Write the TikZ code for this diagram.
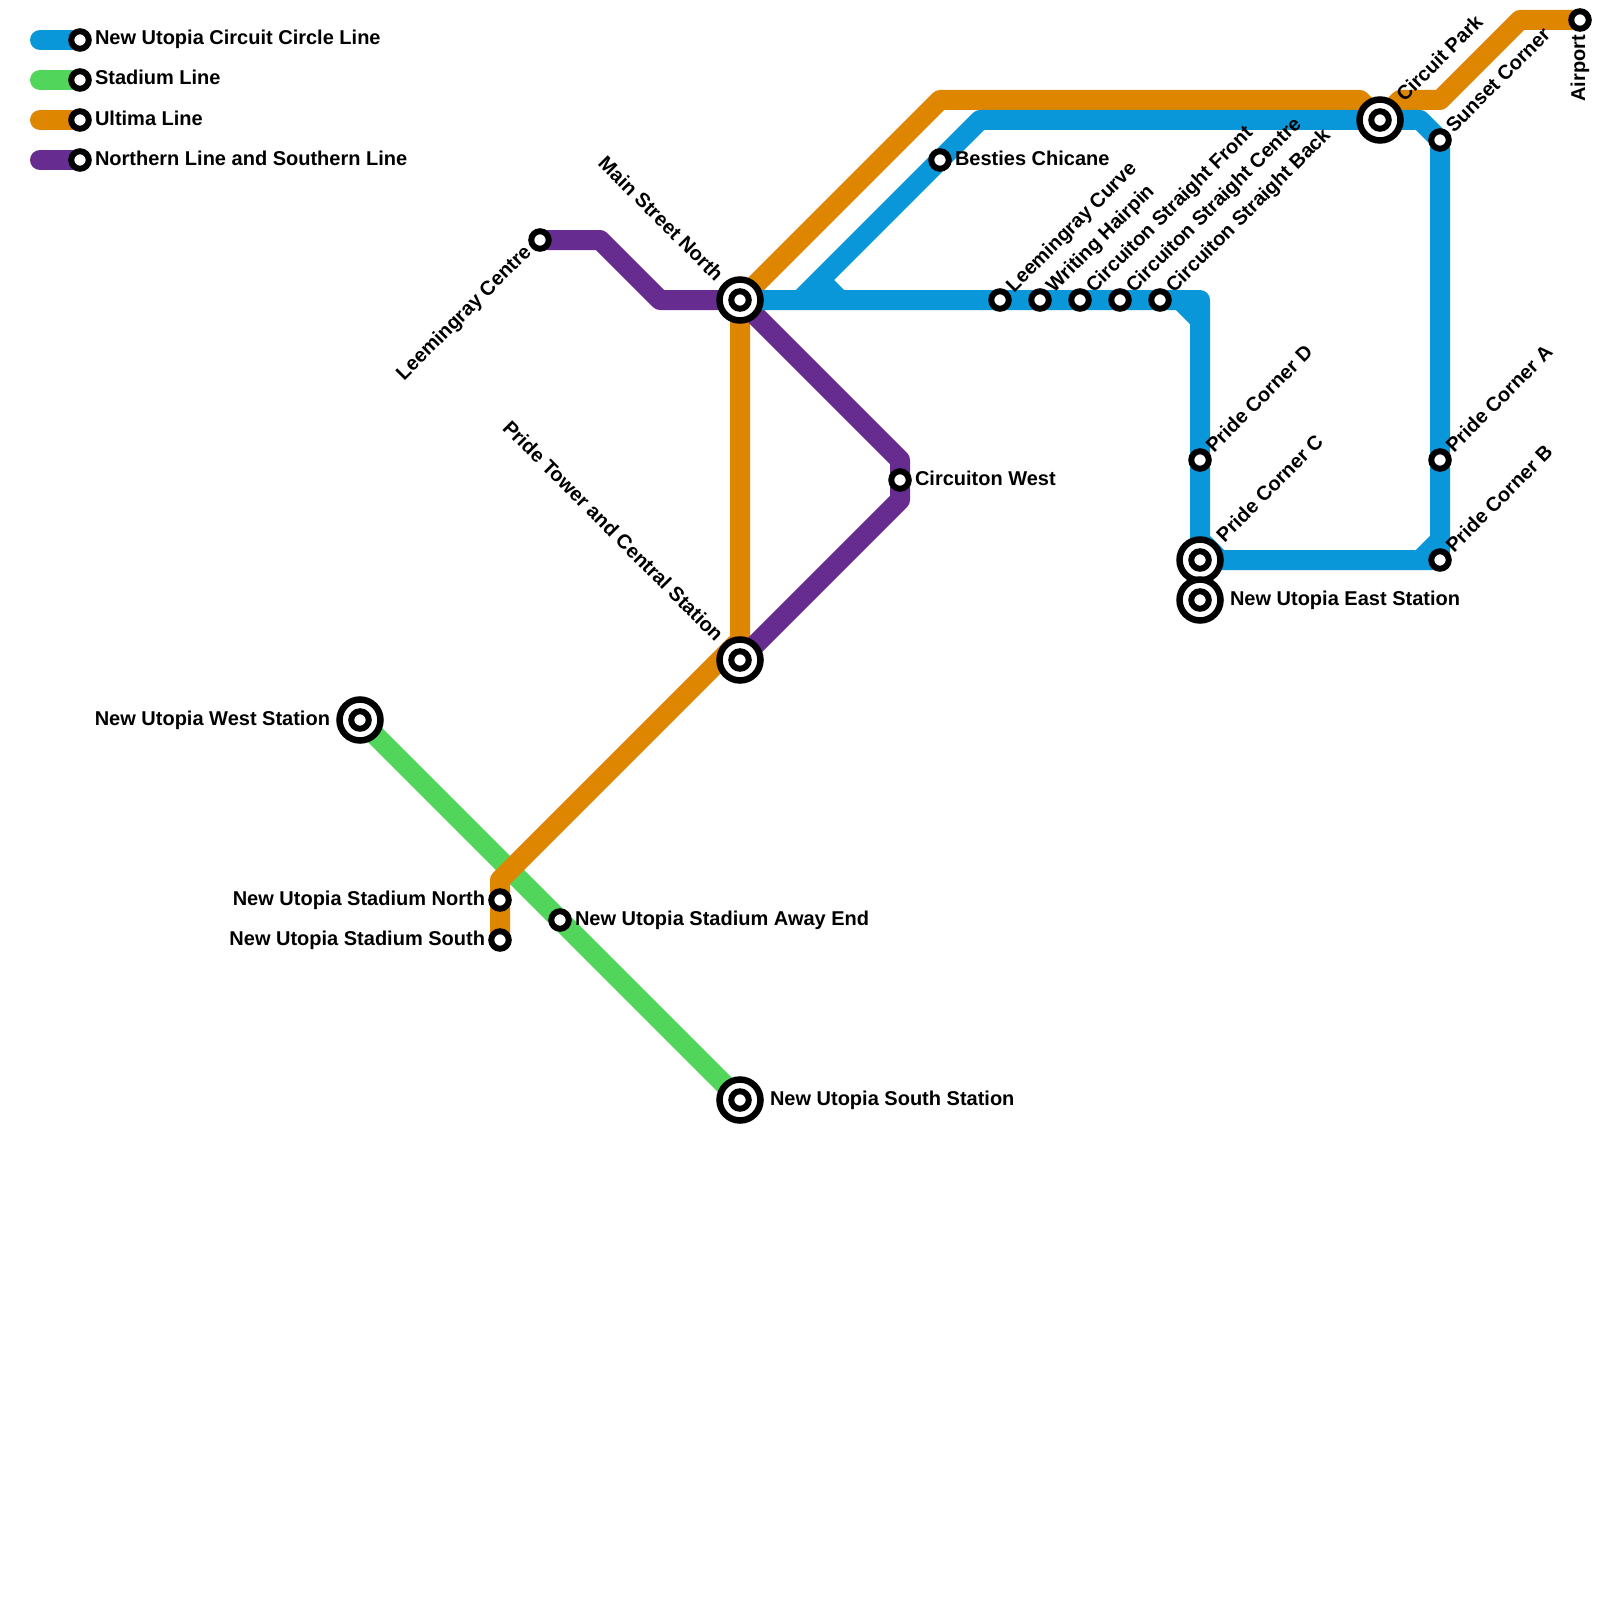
\documentclass[tikz,border=0pt]{standalone}
\usepackage{fontspec}
\setmainfont{Liberation Sans}
\usetikzlibrary{calc}
\pgfdeclarelayer{lines}
\pgfsetlayers{lines,main}
\definecolor{cblue}{HTML}{0A97D9}
\definecolor{cgreen}{HTML}{51D55A}
\definecolor{corange}{HTML}{DF8600}
\definecolor{cpurple}{HTML}{662C90}
\tikzset{
  x=1pt,y=-1pt,
  metro/.style={line width=20pt,line join=round},
  key/.style={metro,line cap=round},
  stn/.style={circle,draw=black,fill=white,line width=6pt,inner sep=0pt,outer sep=0pt,minimum size=17.5pt},
  hub/.style={circle,draw=black,fill=white,line width=6.5pt,inner sep=0pt,outer sep=0pt,minimum size=41pt,label={[stn]center:{}}},
  lbl/.style={font=\fontsize{20}{24}\selectfont\bfseries,inner sep=0pt,outer sep=0pt,text=black},
  lr/.style={lbl,anchor=base west},
  ll/.style={lbl,anchor=base east},
  up/.style={lbl,rotate=45,anchor=base west},
  upl/.style={lbl,rotate=45,anchor=base east},
  dnl/.style={lbl,rotate=-45,anchor=base east},
  vert/.style={lbl,rotate=90,anchor=base east},
}
\begin{document}
\begin{tikzpicture}
\useasboundingbox (0,0) rectangle (1600,1600);
% legend
\coordinate (k1) at (40,40);
\coordinate (k2) at (40,80);
\coordinate (k3) at (40,120);
\coordinate (k4) at (40,160);
\node[stn] (s1) at (80,40) {};
\node[stn] (s2) at (80,80) {};
\node[stn] (s3) at (80,120) {};
\node[stn] (s4) at (80,160) {};
\node[lr] (t1) at (95,45) {New Utopia Circuit Circle Line};
\node[lr] (t2) at (95,85) {Stadium Line};
\node[lr] (t3) at (95,125) {Ultima Line};
\node[lr] (t4) at (95,165) {Northern Line and Southern Line};
% stations
\node[hub] (main) at (740,300) {};
\node[hub] (tower) at (740,660) {};
\node[hub] (west) at (360,720) {};
\node[hub] (south) at (740,1100) {};
\node[hub] (park) at (1380,120) {};
\node[hub] (cornerC) at (1200,560) {};
\node[hub] (east) at (1200,600) {};
\node[stn] (stadN) at (500,900) {};
\node[stn] (stadS) at (500,940) {};
\node[stn] (away) at (560,920) {};
\node[stn] (lcentre) at (540,240) {};
\node[stn] (besties) at (940,160) {};
\node[stn] (cwest) at (900,480) {};
\node[stn] (curve) at (1000,300) {};
\node[stn] (hairpin) at (1040,300) {};
\node[stn] (front) at (1080,300) {};
\node[stn] (centre) at (1120,300) {};
\node[stn] (back) at (1160,300) {};
\node[stn] (cornerD) at (1200,460) {};
\node[stn] (cornerA) at (1440,460) {};
\node[stn] (cornerB) at (1440,560) {};
\node[stn] (sunset) at (1440,140) {};
\node[stn] (airport) at (1580,20) {};
% labels
\node[dnl] (lmain) at ($(main)+(-25,-17.5)$) {Main Street North};
\node[dnl] (ltower) at ($(tower)+(-25,-17.5)$) {Pride Tower and Central Station};
\node[ll] (lwest) at ($(west)+(-30,5)$) {New Utopia West Station};
\node[lr] (lsouth) at ($(south)+(30,5)$) {New Utopia South Station};
\node[lr] (least) at ($(east)+(30,5)$) {New Utopia East Station};
\node[up] (lpark) at ($(park)+(24.5,-17)$) {Circuit Park};
\node[up] (lC) at ($(cornerC)+(24.5,-17)$) {Pride Corner C};
\node[ll] (lN) at ($(stadN)+(-15,5)$) {New Utopia Stadium North};
\node[ll] (lS) at ($(stadS)+(-15,5)$) {New Utopia Stadium South};
\node[lr] (lA) at ($(away)+(15,5)$) {New Utopia Stadium Away End};
\node[upl] (llc) at ($(lcentre)+(-7.8,13.2)$) {Leemingray Centre};
\node[lr] (lb) at ($(besties)+(15,5)$) {Besties Chicane};
\node[lr] (lw) at ($(cwest)+(15,5)$) {Circuiton West};
\node[up] (l1) at ($(curve)+(14,-6.5)$) {Leemingray Curve};
\node[up] (l2) at ($(hairpin)+(14,-6.5)$) {Writing Hairpin};
\node[up] (l3) at ($(front)+(14,-6.5)$) {Circuiton Straight Front};
\node[up] (l4) at ($(centre)+(14,-6.5)$) {Circuiton Straight Centre};
\node[up] (l5) at ($(back)+(14,-6.5)$) {Circuiton Straight Back};
\node[up] (l6) at ($(cornerD)+(14,-6.5)$) {Pride Corner D};
\node[up] (l7) at ($(cornerA)+(14,-6.5)$) {Pride Corner A};
\node[up] (l8) at ($(cornerB)+(14,-6.5)$) {Pride Corner B};
\node[up] (l9) at ($(sunset)+(14,-6.5)$) {Sunset Corner};
\node[vert] (l10) at ($(airport)+(5,15)$) {Airport};
% bends
\coordinate (o1) at (500,880);
\coordinate (o2) at (740,640);
\coordinate (o3) at (940,100);
\coordinate (o4) at (1360,100);
\coordinate (o5) at (1400,100);
\coordinate (o6) at (1440,100);
\coordinate (o7) at (1520,20);
\coordinate (p1) at (600,240);
\coordinate (p2) at (660,300);
\coordinate (p3) at (900,460);
\coordinate (p4) at (900,500);
\coordinate (b1) at (800,300);
\coordinate (b2) at (980,120);
\coordinate (b3) at (1420,120);
\coordinate (b4) at (1200,300);
\coordinate (b5) at (820,280);
\coordinate (b6) at (840,300);
\coordinate (b7) at (1180,300);
\coordinate (b8) at (1200,320);
\coordinate (b9) at (1200,540);
\coordinate (b10) at (1220,560);
\coordinate (b11) at (1420,560);
\coordinate (b12) at (1440,540);
\begin{pgfonlayer}{lines}
\fill[white] (0,0) rectangle (1600,1600);
\draw[key,cblue] (k1) -- (s1.center);
\draw[key,cgreen] (k2) -- (s2.center);
\draw[key,corange] (k3) -- (s3.center);
\draw[key,cpurple] (k4) -- (s4.center);
\draw[metro,cgreen] (west.center) -- (away.center) -- (south.center);
\draw[metro,corange] (stadS.center) -- (stadN.center) -- (o1) -- (o2) -- (main.center) -- (o3) -- (o4) -- (park.center) -- (o5) -- (o6) -- (o7) -- (airport.center);
\draw[metro,cpurple] (lcentre.center) -- (p1) -- (p2) -- (main.center) -- (p3) -- (cwest.center) -- (p4) -- (tower.center);
\draw[metro,cblue] (main.center) -- (curve.center) -- (hairpin.center) -- (front.center) -- (centre.center) -- (back.center) -- (b4) -- (cornerD.center) -- (cornerC.center) -- (cornerB.center) -- (cornerA.center) -- (sunset.center) -- (b3) -- (park.center) -- (b2) -- (besties.center) -- (b1);
\draw[metro,cblue] (b5) -- (b6);
\draw[metro,cblue] (b7) -- (b8);
\draw[metro,cblue] (b9) -- (b10);
\draw[metro,cblue] (b11) -- (b12);
\end{pgfonlayer}
\end{tikzpicture}
\end{document}
